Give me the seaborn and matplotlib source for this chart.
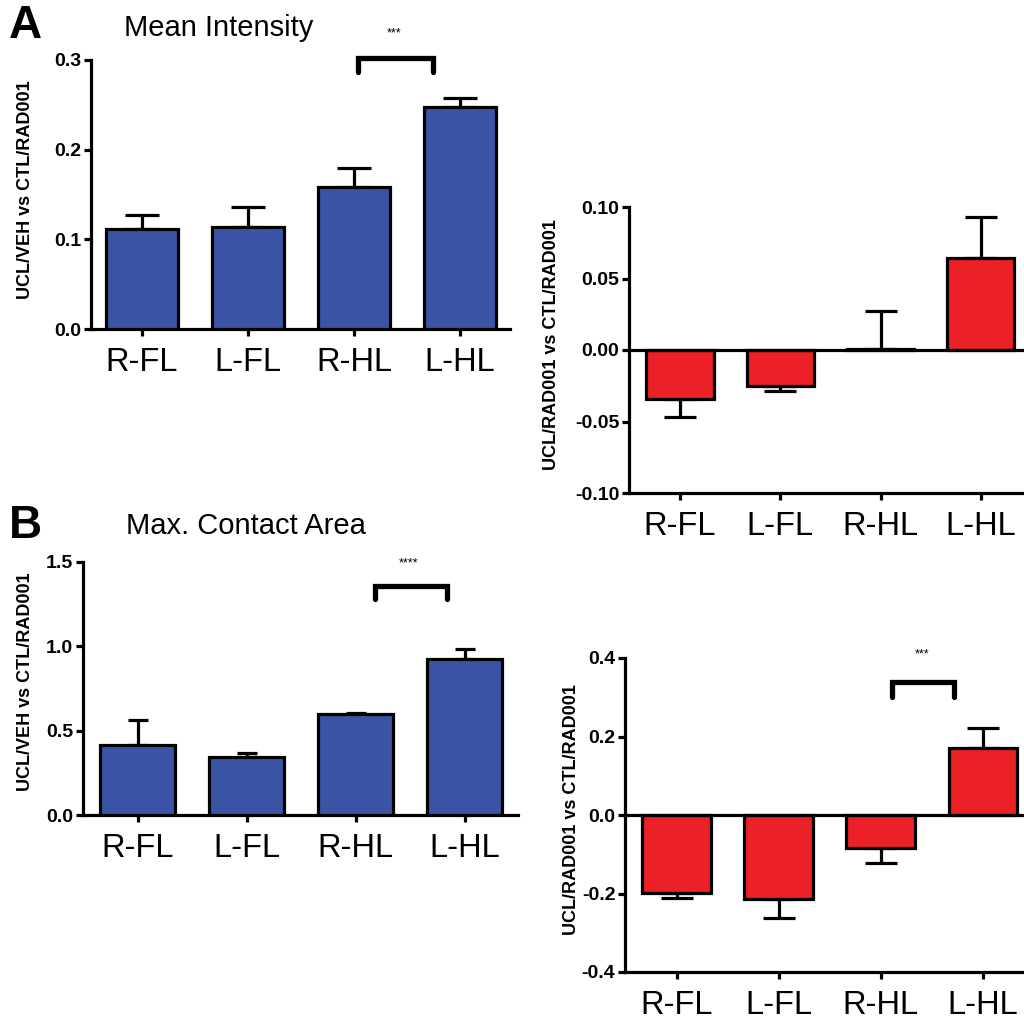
"""Four-panel bar chart: mean intensity / max contact area ratios per limb."""

import matplotlib
matplotlib.use("Agg")
import matplotlib.pyplot as plt
import numpy as np
import pandas as pd
import seaborn as sns

# ---- data ----
limbs = ["R-FL", "L-FL", "R-HL", "L-HL"]

intensity_veh = [0.112, 0.114, 0.158, 0.248]
intensity_veh_sem = [0.015, 0.022, 0.021, 0.010]

intensity_rad = [-0.034, -0.025, 0.001, 0.064]
intensity_rad_sem = [0.013, 0.004, 0.026, 0.029]

area_veh = [0.415, 0.345, 0.599, 0.925]
area_veh_sem = [0.148, 0.022, 0.004, 0.058]

area_rad = [-0.199, -0.214, -0.084, 0.171]
area_rad_sem = [0.012, 0.048, 0.038, 0.051]

ylabel_veh = "UCL/VEH vs CTL/RAD001"
ylabel_rad = "UCL/RAD001 vs CTL/RAD001"

BLUE = "#3a55a5"
RED = "#ec2027"
LW = 2.3

sns.set_style("ticks")
plt.rcParams["font.family"] = ["Liberation Sans", "DejaVu Sans"]
for key in ["text.color", "axes.labelcolor", "xtick.color", "ytick.color", "axes.edgecolor"]:
    plt.rcParams[key] = "black"

fig = plt.figure(figsize=(10.24, 10.24), dpi=100)


def rect(left, right, top, bottom):
    return [left / 1024, 1 - bottom / 1024, (right - left) / 1024, (bottom - top) / 1024]


def bar_panel(r, values, sems, color, ylim, yticks, fmt, xlim, width, capsize, ylabel, label_xy):
    ax = fig.add_axes(r)
    df = pd.DataFrame({"limb": limbs, "value": values})
    sns.barplot(data=df, x="limb", y="value", color=color, edgecolor="black",
                linewidth=LW, width=width, errorbar=None, saturation=1, ax=ax, zorder=3)
    vals = np.array(values)
    sems = np.array(sems)
    lower = np.where(vals < 0, sems, 0)
    upper = np.where(vals >= 0, sems, 0)
    ax.errorbar(np.arange(len(limbs)), vals, yerr=[lower, upper], fmt="none",
                ecolor="black", elinewidth=LW, capsize=capsize, capthick=LW, zorder=2)
    if ylim[0] < 0:
        ax.axhline(0, color="black", lw=LW, zorder=4)
    ax.set_xlim(*xlim)
    ax.set_ylim(*ylim)
    ax.set_yticks(yticks)
    ax.set_yticklabels([fmt.format(t) for t in yticks], fontweight="bold", fontsize=14)
    ax.set_xlabel("")
    ax.set_ylabel(ylabel, fontweight="bold", fontsize=13)
    ax.yaxis.set_label_coords(label_xy[0] / 1024, 1 - label_xy[1] / 1024, transform=fig.transFigure)
    ax.tick_params(axis="x", labelsize=23.5, length=5, width=LW, pad=8)
    ax.tick_params(axis="y", length=5, width=LW, pad=2)
    for side in ["top", "right"]:
        ax.spines[side].set_visible(False)
    for side in ["left", "bottom"]:
        ax.spines[side].set_linewidth(LW)
        ax.spines[side].set_color("black")
    return ax


def bracket(ax, x0, x1, top, leg, stars, sx, sy):
    ax.plot([x0, x0, x1, x1], [leg, top, top, leg], color="black", lw=3.8,
            solid_joinstyle="miter", clip_on=False, zorder=5)
    ax.text(sx, sy, stars, ha="center", va="center", fontsize=9, clip_on=False)


ax_a = bar_panel(rect(91, 510, 60, 329), intensity_veh, intensity_veh_sem, BLUE,
                 (0, 0.3), [0, 0.1, 0.2, 0.3], "{:.1f}", (-0.48, 3.47), 0.68, 12.5,
                 ylabel_veh, (34, 190))
bracket(ax_a, 2.04, 2.74, 0.302, 0.287, "***", 2.38, 0.33)

ax_ar = bar_panel(rect(629, 1045, 207, 493), intensity_rad, intensity_rad_sem, RED,
                  (-0.1, 0.1), [-0.1, -0.05, 0, 0.05, 0.1], "{:.2f}", (-0.508, 3.64), 0.67, 11.5,
                  ylabel_rad, (560, 345))

ax_b = bar_panel(rect(83, 518, 562, 815), area_veh, area_veh_sem, BLUE,
                 (0, 1.5), [0, 0.5, 1.0, 1.5], "{:.1f}", (-0.5, 3.49), 0.69, 7.5,
                 ylabel_veh, (34, 682))
bracket(ax_b, 2.18, 2.84, 1.36, 1.28, "****", 2.49, 1.49)

ax_br = bar_panel(rect(625, 1045, 658, 972), area_rad, area_rad_sem, RED,
                  (-0.4, 0.4), [-0.4, -0.2, 0, 0.2, 0.4], "{:.1f}", (-0.505, 3.61), 0.67, 11.5,
                  ylabel_rad, (580, 810))
bracket(ax_br, 2.11, 2.72, 0.338, 0.30, "***", 2.41, 0.41)

# panel letters and titles
fig.text(9 / 1024, 1 - 26 / 1024, "A", fontsize=33, fontweight="bold", va="center")
fig.text(124 / 1024, 1 - 28 / 1024, "Mean Intensity", fontsize=21, va="center")
fig.text(9 / 1024, 1 - 526 / 1024, "B", fontsize=33, fontweight="bold", va="center")
fig.text(126 / 1024, 1 - 526 / 1024, "Max. Contact Area", fontsize=21, va="center")

fig.savefig("out.png", dpi=100)
plt.close(fig)
